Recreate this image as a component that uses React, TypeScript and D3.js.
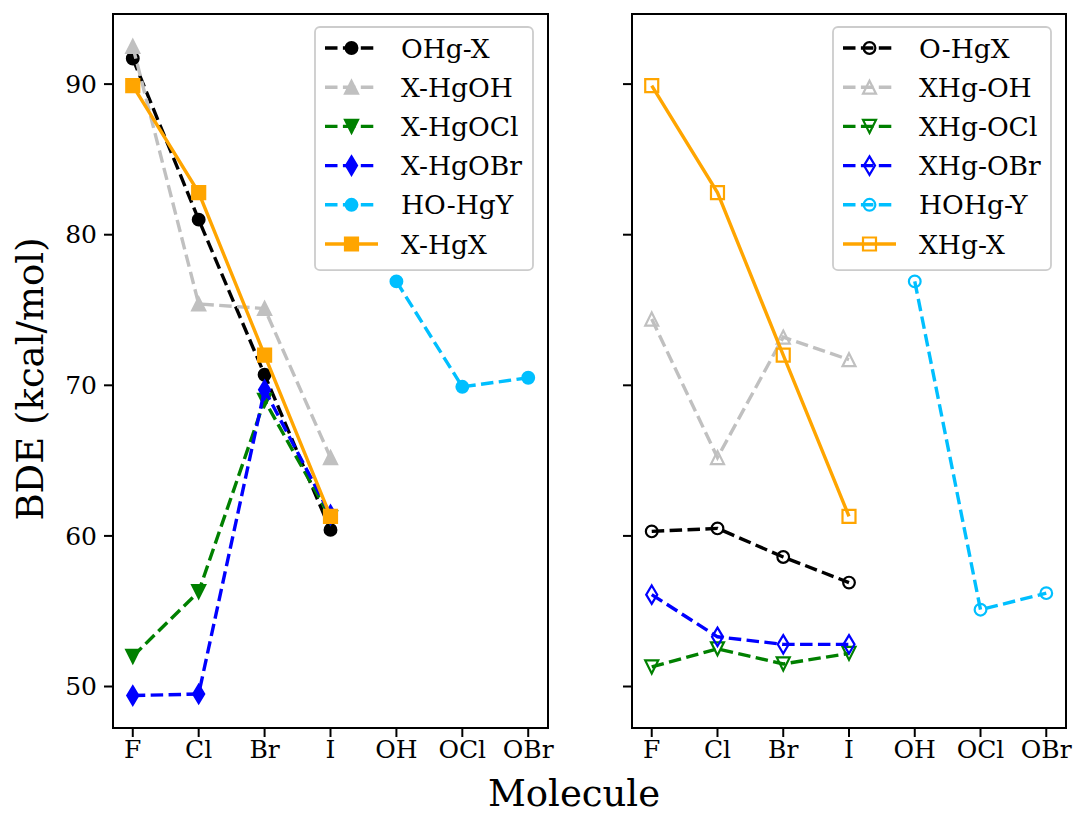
import React from 'react';
import * as d3 from 'd3';

const categories = ['F', 'Cl', 'Br', 'I', 'OH', 'OCl', 'OBr'];
const halogens = ['F', 'Cl', 'Br', 'I'];
const oxySpecies = ['OH', 'OCl', 'OBr'];
const yTicks = [50, 60, 70, 80, 90];

// Left panel values
const ohgX = [91.7, 81.0, 70.7, 60.4];
const xHgOH = [92.5, 75.4, 75.1, 65.2];
const xHgOCl = [52.0, 56.3, 69.0, 61.2];
const xHgOBr = [49.4, 49.5, 69.7, 61.4];
const hoHgY = [76.9, 69.9, 70.5];
const xHgX = [89.9, 82.8, 72.0, 61.3];

// Right panel values
const oHgX = [60.3, 60.5, 58.6, 56.9];
const xHgOHr = [74.4, 65.2, 73.2, 71.7];
const xHgOClr = [51.3, 52.5, 51.5, 52.2];
const xHgOBrr = [56.1, 53.3, 52.8, 52.8];
const hoHgYr = [76.9, 55.1, 56.2];
const xHgXr = [89.9, 82.8, 72.0, 61.3];

type Marker = 'o' | '^' | 'v' | 'd' | 's';
interface Series {
  label: string;
  cats: string[];
  values: number[];
  color: string;
  marker: Marker;
  dashed: boolean;
  filled: boolean;
}

const leftSeries: Series[] = [
  { label: 'OHg-X', cats: halogens, values: ohgX, color: '#000000', marker: 'o', dashed: true, filled: true },
  { label: 'X-HgOH', cats: halogens, values: xHgOH, color: '#c0c0c0', marker: '^', dashed: true, filled: true },
  { label: 'X-HgOCl', cats: halogens, values: xHgOCl, color: '#008000', marker: 'v', dashed: true, filled: true },
  { label: 'X-HgOBr', cats: halogens, values: xHgOBr, color: '#0000ff', marker: 'd', dashed: true, filled: true },
  { label: 'HO-HgY', cats: oxySpecies, values: hoHgY, color: '#00bfff', marker: 'o', dashed: true, filled: true },
  { label: 'X-HgX', cats: halogens, values: xHgX, color: '#ffa500', marker: 's', dashed: false, filled: true },
];

const rightSeries: Series[] = [
  { label: 'O-HgX', cats: halogens, values: oHgX, color: '#000000', marker: 'o', dashed: true, filled: false },
  { label: 'XHg-OH', cats: halogens, values: xHgOHr, color: '#c0c0c0', marker: '^', dashed: true, filled: false },
  { label: 'XHg-OCl', cats: halogens, values: xHgOClr, color: '#008000', marker: 'v', dashed: true, filled: false },
  { label: 'XHg-OBr', cats: halogens, values: xHgOBrr, color: '#0000ff', marker: 'd', dashed: true, filled: false },
  { label: 'HOHg-Y', cats: oxySpecies, values: hoHgYr, color: '#00bfff', marker: 'o', dashed: true, filled: false },
  { label: 'XHg-X', cats: halogens, values: xHgXr, color: '#ffa500', marker: 's', dashed: false, filled: false },
];

const W = 1076;
const H = 816;
const TOP = 14;
const BOTTOM = 728;
const PANELS = [
  { x0: 113, x1: 548, series: leftSeries, showYLabels: true },
  { x0: 632, x1: 1066, series: rightSeries, showYLabels: false },
];
const FONT = "'DejaVu Serif', serif";
const MS = 13;
const LW = 3.4;
const DASH = '12.5,5.4';

function markerPath(m: Marker): string {
  const h = MS / 2;
  switch (m) {
    case 'o': {
      const r = h * 0.9;
      const p = d3.path();
      p.arc(0, 0, r, 0, Math.PI * 2);
      p.closePath();
      return p.toString();
    }
    case 's':
      return `M${-h},${-h}L${h},${-h}L${h},${h}L${-h},${h}Z`;
    case '^':
      return `M0,${-h}L${h},${h}L${-h},${h}Z`;
    case 'v':
      return `M0,${h}L${h},${-h}L${-h},${-h}Z`;
    case 'd': {
      const hh = (MS * Math.SQRT2) / 2;
      const hw = hh * 0.6;
      return `M0,${-hh}L${hw},0L0,${hh}L${-hw},0Z`;
    }
  }
  return '';
}

const allValues = [...leftSeries, ...rightSeries].flatMap((s) => s.values);
const [vMin, vMax] = d3.extent(allValues) as [number, number];
const pad = (vMax - vMin) * 0.05;

const y = d3.scaleLinear().domain([vMin - pad, vMax + pad]).range([BOTTOM, TOP]);

export default function App() {
  return (
    <svg
      width={W}
      height={H}
      viewBox={`0 0 ${W} ${H}`}
      style={{ position: 'absolute', left: 0, top: 0, background: '#fff' }}
      fontFamily={FONT}
    >
      <rect x={0} y={0} width={W} height={H} fill="#fff" />
      {PANELS.map((panel, pi) => {
        const n = categories.length - 1;
        const inset = ((panel.x1 - panel.x0) * 0.3) / (n + 0.6);
        const x = d3
          .scalePoint<string>()
          .domain(categories)
          .range([panel.x0 + inset, panel.x1 - inset]);
        const line = d3
          .line<[string, number]>()
          .x((d) => x(d[0]) as number)
          .y((d) => y(d[1]));
        const legendRight = panel.x1 - 15;
        const legendW = 218;
        const legendX = legendRight - legendW;
        const legendY = 27;
        const rowH = 39.2;
        return (
          <g key={pi}>
            <defs>
              <clipPath id={`clip${pi}`}>
                <rect x={panel.x0} y={TOP} width={panel.x1 - panel.x0} height={BOTTOM - TOP} />
              </clipPath>
            </defs>
            <g clipPath={`url(#clip${pi})`}>
              {panel.series.map((s, si) => {
                const pts = s.cats.map((c, i) => [c, s.values[i]] as [string, number]);
                return (
                  <g key={si}>
                    <path
                      d={line(pts) || ''}
                      fill="none"
                      stroke={s.color}
                      strokeWidth={LW}
                      strokeDasharray={s.dashed ? DASH : undefined}
                    />
                    {pts.map((p, k) => (
                      <path
                        key={k}
                        d={markerPath(s.marker)}
                        transform={`translate(${x(p[0])},${y(p[1])})`}
                        fill={s.filled ? s.color : 'none'}
                        stroke={s.color}
                        strokeWidth={2.2}
                      />
                    ))}
                  </g>
                );
              })}
            </g>
            {/* axes frame */}
            <rect
              x={panel.x0}
              y={TOP}
              width={panel.x1 - panel.x0}
              height={BOTTOM - TOP}
              fill="none"
              stroke="#000"
              strokeWidth={2}
            />
            {/* y ticks */}
            {yTicks.map((t) => (
              <g key={t}>
                <line x1={panel.x0 - 9} x2={panel.x0} y1={y(t)} y2={y(t)} stroke="#000" strokeWidth={2} />
                {panel.showYLabels && (
                  <text x={panel.x0 - 16} y={y(t)} dy="0.35em" textAnchor="end" fontSize={25} fill="#000">
                    {t}
                  </text>
                )}
              </g>
            ))}
            {/* x ticks */}
            {categories.map((c) => (
              <g key={c}>
                <line x1={x(c)} x2={x(c)} y1={BOTTOM} y2={BOTTOM + 9} stroke="#000" strokeWidth={2} />
                <text x={x(c)} y={BOTTOM + 30} textAnchor="middle" fontSize={25} fill="#000">
                  {c}
                </text>
              </g>
            ))}
            {/* legend */}
            <rect
              x={legendX}
              y={legendY}
              width={legendW}
              height={rowH * 6 + 8}
              rx={5}
              fill="#fff"
              fillOpacity={0.8}
              stroke="#cccccc"
              strokeWidth={1.8}
            />
            {panel.series.map((s, si) => {
              const cy = legendY + 21 + si * rowH;
              const hx0 = legendX + 10;
              const hx1 = legendX + 63;
              return (
                <g key={si}>
                  <line
                    x1={hx0}
                    x2={hx1}
                    y1={cy}
                    y2={cy}
                    stroke={s.color}
                    strokeWidth={LW}
                    strokeDasharray={s.dashed ? DASH : undefined}
                  />
                  <path
                    d={markerPath(s.marker)}
                    transform={`translate(${(hx0 + hx1) / 2},${cy})`}
                    fill={s.filled ? s.color : 'none'}
                    stroke={s.color}
                    strokeWidth={2.2}
                  />
                  <text x={legendX + 86} y={cy} dy="0.36em" fontSize={26.5} fill="#000">
                    {s.label}
                  </text>
                </g>
              );
            })}
          </g>
        );
      })}
      <text
        transform={`translate(30,${(TOP + BOTTOM) / 2 + 8}) rotate(-90)`}
        textAnchor="middle"
        dy="0.35em"
        fontSize={37}
        fill="#000"
      >
        BDE (kcal/mol)
      </text>
      <text x={574} y={806} textAnchor="middle" fontSize={37} fill="#000">
        Molecule
      </text>
    </svg>
  );
}
